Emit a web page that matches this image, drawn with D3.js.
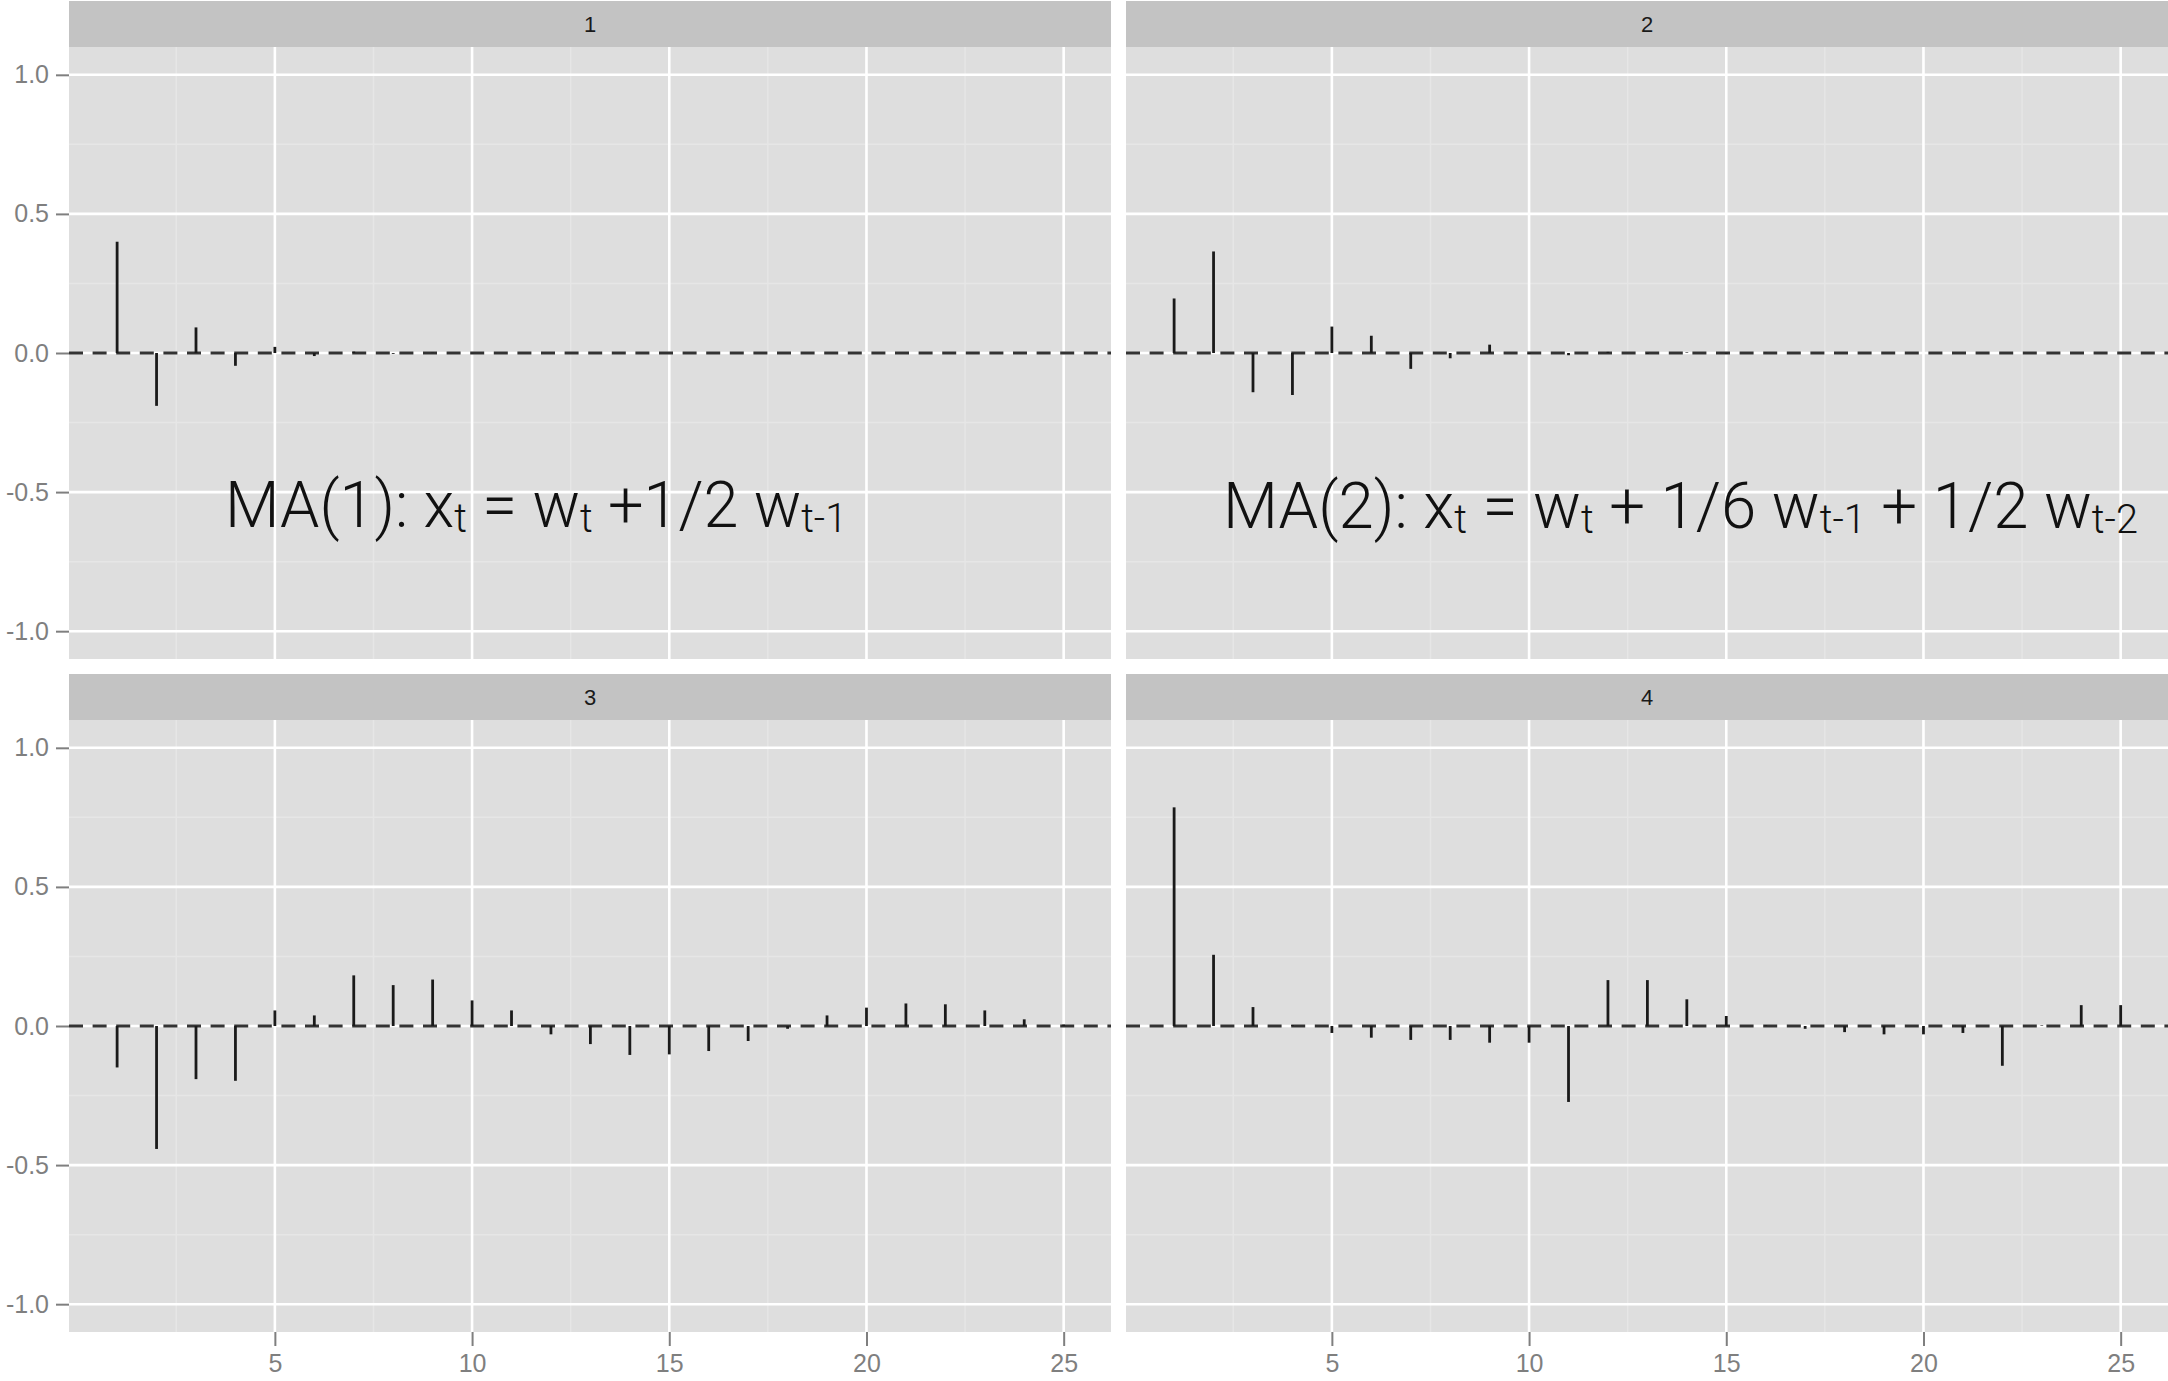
<!DOCTYPE html>
<html>
<head>
<meta charset="utf-8">
<script src="https://cdn.jsdelivr.net/npm/d3@7"></script>
<style>
  body { margin: 0; background: #fff; }
  svg { display: block; }
</style>
</head>
<body>
<div id="chart"></div>
<script>
// lags shown in every facet
var lags = d3.range(1, 26);

// values, one array per facet
var panel1 = [0.40, -0.19, 0.092, -0.046, 0.022, -0.011, 0.005, -0.003, 0.001, -0.001, 0, 0, 0, 0, 0, 0, 0, 0, 0, 0, 0, 0, 0, 0, 0];
var panel2 = [0.196, 0.365, -0.141, -0.151, 0.095, 0.062, -0.057, -0.019, 0.030, -0.003, -0.008, 0.004, -0.003, 0.002, -0.002, 0.001, 0, 0, 0, 0, 0, 0, 0, 0, 0];
var panel3 = [-0.149, -0.442, -0.191, -0.197, 0.056, 0.038, 0.182, 0.147, 0.167, 0.092, 0.056, -0.030, -0.065, -0.104, -0.102, -0.090, -0.054, -0.010, 0.038, 0.066, 0.081, 0.078, 0.056, 0.024, 0.005];
var panel4 = [0.786, 0.256, 0.068, 0.003, -0.025, -0.042, -0.050, -0.050, -0.060, -0.060, -0.273, 0.165, 0.165, 0.096, 0.036, 0.002, -0.010, -0.022, -0.030, -0.030, -0.025, -0.143, 0.002, 0.075, 0.075];

var panelLabels = ["1", "2", "3", "4"];
var panelValues = [panel1, panel2, panel3, panel4];

var xTicks = [5, 10, 15, 20, 25];
var xMinor = [2.5, 7.5, 12.5, 17.5, 22.5];
var yTicks = [1.0, 0.5, 0.0, -0.5, -1.0];
var yTickLabels = ["1.0", "0.5", "0.0", "-0.5", "-1.0"];
var yMinor = [0.75, 0.25, -0.25, -0.75];

// overlaid model labels: [text, subscript] pieces
var note1 = [["MA(1): x", false], ["t", true], [" = w", false], ["t", true], [" +1/2 w", false], ["t-1", true]];
var note2 = [["MA(2): x", false], ["t", true], [" = w", false], ["t", true], [" + 1/6 w", false], ["t-1", true], [" + 1/2 w", false], ["t-2", true]];

// layout
var W = 2168, H = 1381;
var colLeft = [69, 1126], panelW = 1042;
var rowTop = [1, 674], stripH = 46, panelH = 612;

var svg = d3.select("#chart")
  .append("svg")
  .attr("width", W)
  .attr("height", H);

var x = d3.scaleLinear().domain([-0.22, 26.2]).range([0, panelW]);
var y = d3.scaleLinear().domain([-1.1, 1.1]).range([panelH, 0]);

panelValues.forEach(function (vals, i) {
  var col = i % 2, row = Math.floor(i / 2);
  var g = svg.append("g")
    .attr("transform", "translate(" + colLeft[col] + "," + (rowTop[row] + stripH) + ")");

  // strip
  g.append("rect")
    .attr("x", 0).attr("y", -stripH)
    .attr("width", panelW).attr("height", stripH)
    .attr("fill", "#c3c3c3");
  g.append("text")
    .attr("x", panelW / 2).attr("y", -stripH / 2)
    .attr("dy", "0.36em")
    .attr("text-anchor", "middle")
    .style("font-family", "'Liberation Sans', Arial, sans-serif")
    .style("font-size", "22px")
    .attr("fill", "#1a1a1a")
    .text(panelLabels[i]);

  // panel background
  g.append("rect")
    .attr("width", panelW).attr("height", panelH)
    .attr("fill", "#dedede");

  // minor grid
  g.selectAll(".vminor").data(xMinor).enter().append("line")
    .attr("x1", function (d) { return x(d); }).attr("x2", function (d) { return x(d); })
    .attr("y1", 0).attr("y2", panelH)
    .attr("stroke", "#e6e6e6").attr("stroke-width", 1.5);
  g.selectAll(".hminor").data(yMinor).enter().append("line")
    .attr("y1", function (d) { return y(d); }).attr("y2", function (d) { return y(d); })
    .attr("x1", 0).attr("x2", panelW)
    .attr("stroke", "#e6e6e6").attr("stroke-width", 1.5);

  // major grid
  g.selectAll(".vmajor").data(xTicks).enter().append("line")
    .attr("x1", function (d) { return x(d); }).attr("x2", function (d) { return x(d); })
    .attr("y1", 0).attr("y2", panelH)
    .attr("stroke", "#ffffff").attr("stroke-width", 2.6);
  g.selectAll(".hmajor").data(yTicks).enter().append("line")
    .attr("y1", function (d) { return y(d); }).attr("y2", function (d) { return y(d); })
    .attr("x1", 0).attr("x2", panelW)
    .attr("stroke", "#ffffff").attr("stroke-width", 2.6);

  // zero line
  g.append("line")
    .attr("x1", 0).attr("x2", panelW)
    .attr("y1", y(0)).attr("y2", y(0))
    .attr("stroke", "#333333")
    .attr("stroke-width", 3)
    .attr("stroke-dasharray", "14,9.6");

  // spikes
  g.selectAll(".spike").data(lags).enter().append("line")
    .attr("x1", function (d) { return x(d); }).attr("x2", function (d) { return x(d); })
    .attr("y1", y(0))
    .attr("y2", function (d, j) { return y(vals[j]); })
    .attr("stroke", "#1a1a1a")
    .attr("stroke-width", 2.8);

  // axes
  if (col === 0) {
    var ya = g.append("g")
      .call(d3.axisLeft(y).tickValues(yTicks)
        .tickFormat(function (d, k) { return yTickLabels[k]; })
        .tickSize(13).tickPadding(7));
    styleAxis(ya);
  }
  if (row === 1) {
    var xa = g.append("g")
      .attr("transform", "translate(0," + panelH + ")")
      .call(d3.axisBottom(x).tickValues(xTicks).tickSize(14).tickPadding(8));
    styleAxis(xa);
  }
});

function styleAxis(a) {
  a.select(".domain").remove();
  a.selectAll("line").attr("stroke", "#7f7f7f").attr("stroke-width", 2);
  a.selectAll("text")
    .attr("fill", "#7f7f7f")
    .style("font-family", "'Liberation Sans', Arial, sans-serif")
    .style("font-size", "25px");
}

// model annotations
function addNote(pieces, left, base, target) {
  var t = svg.append("text")
    .attr("x", left).attr("y", base)
    .style("font-family", "Roboto, 'Liberation Sans', sans-serif")
    .style("font-weight", 300)
    .style("font-size", "64px")
    .attr("fill", "#111");
  var down = false;
  pieces.forEach(function (p) {
    var s = t.append("tspan").text(p[0]);
    if (p[1] && !down) { s.attr("dy", 5).style("font-size", "40px"); down = true; }
    else if (p[1]) { s.style("font-size", "40px"); }
    else if (down) { s.attr("dy", -5); down = false; }
  });
  t.attr("textLength", target).attr("lengthAdjust", "spacingAndGlyphs");
}
addNote(note1, 225, 527, 622);
addNote(note2, 1223, 528, 915);
</script>
</body>
</html>
